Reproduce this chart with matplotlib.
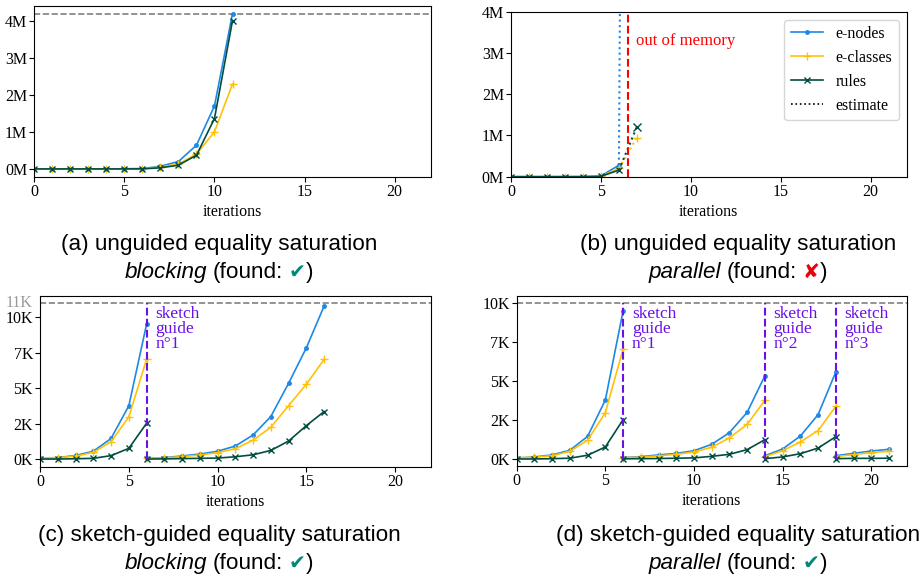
import matplotlib
matplotlib.use("Agg")
import matplotlib.pyplot as plt
import matplotlib.transforms as mtransforms
from matplotlib import font_manager
from matplotlib.lines import Line2D
from matplotlib.ticker import FuncFormatter

W, H = 923, 582

BLUE = '#1E88E5'
YELLOW = '#FFC107'
GREEN = '#004D40'
PURPLE = '#6a10e8'
TEAL = '#00897B'

# (a) unguided, blocking
a_x = list(range(12))
a_nodes = [50, 100, 250, 550, 1450, 3750, 9500, 70000, 200000, 640000, 1700000, 4190000]
a_classes = [80, 100, 200, 500, 1200, 2950, 7000, 50000, 130000, 400000, 1000000, 2290000]
a_rules = [0, 0, 20, 50, 250, 800, 2500, 30000, 100000, 370000, 1360000, 4000000]
a_limit = 4190000

# (b) unguided, parallel
b_x = list(range(7))
b_nodes = [50, 100, 250, 550, 1450, 15000, 280000]
b_classes = [80, 100, 200, 500, 1200, 12000, 200000]
b_rules = [0, 0, 20, 50, 250, 8000, 160000]
b_est_x = [6, 7]
b_est_nodes = [280000, 70000000]
b_est_classes = [200000, 950000]
b_est_rules = [160000, 1210000]
b_oom = 6.5

# (c) sketch-guided, blocking
c_x = [list(range(0, 7)), list(range(6, 17))]
c_nodes = [[50, 100, 250, 550, 1450, 3750, 9500],
           [50, 100, 220, 350, 550, 920, 1700, 3000, 5350, 7850, 10800]]
c_classes = [[80, 100, 200, 470, 1220, 2970, 7030],
             [50, 80, 170, 280, 450, 730, 1330, 2240, 3770, 5280, 7030]]
c_rules = [[0, 0, 20, 50, 240, 750, 2520],
           [0, 10, 30, 50, 70, 160, 300, 610, 1270, 2360, 3350]]
c_guides = [6]
c_limit = 11000

# (d) sketch-guided, parallel
d_x = [list(range(0, 7)), list(range(6, 15)), list(range(14, 19)), list(range(18, 22))]
d_nodes = [[60, 130, 260, 560, 1450, 3780, 9490],
           [90, 150, 260, 360, 530, 940, 1690, 2990, 5340],
           [210, 640, 1470, 2840, 5580],
           [210, 360, 510, 620]]
d_classes = [[80, 110, 210, 490, 1200, 2970, 7050],
             [80, 120, 200, 300, 450, 750, 1350, 2220, 3760],
             [150, 530, 1090, 1820, 3380],
             [150, 280, 410, 490]]
d_rules = [[0, 0, 20, 50, 240, 770, 2520],
           [10, 20, 30, 50, 70, 170, 300, 600, 1240],
           [20, 130, 340, 700, 1430],
           [20, 40, 40, 50]]
d_guides = [6, 14, 18]
d_limit = 10000

captions = [
    ("(a) unguided equality saturation", "blocking", "\u2714", TEAL),
    ("(b) unguided equality saturation", "parallel", "\u2718", '#e8000b'),
    ("(c) sketch-guided equality saturation", "blocking", "\u2714", TEAL),
    ("(d) sketch-guided equality saturation", "parallel", "\u2714", TEAL),
]

FS = 11.5
plt.rcParams['font.family'] = ['Liberation Serif', 'DejaVu Serif']
plt.rcParams['font.size'] = FS

installed = {f.name for f in font_manager.fontManager.ttflist}
if 'Liberation Sans Narrow' in installed:
    cap_font, cap_size = 'Liberation Sans Narrow', 18
else:
    cap_font, cap_size = 'Liberation Sans', 16.2

fig = plt.figure(figsize=(W / 100, H / 100), dpi=100)


def px_axes(l, t, r, b):
    return fig.add_axes([l / W, 1 - b / H, (r - l) / W, (b - t) / H])


def style_axes(ax):
    ax.set_xlim(0, 22)
    ax.set_xticks([0, 5, 10, 15, 20])
    ax.tick_params(axis='both', pad=1.5, labelsize=FS)
    ax.set_xlabel("iterations", labelpad=3, fontsize=FS)


def draw(ax, x, nodes, classes, rules, ls='-'):
    ax.plot(x, nodes, color=BLUE, marker='.', ms=5, lw=1.2, ls=ls)
    ax.plot(x, classes, color=YELLOW, marker='+', ms=6, lw=1.2, ls=ls)
    ax.plot(x, rules, color=GREEN, marker='x', ms=5, lw=1.2, ls=ls)


fmt_m = FuncFormatter(lambda v, _: f"{int(v / 1e6)}M")
fmt_k = FuncFormatter(lambda v, _: f"{int(v / 1000)}K")

# --- (a)
ax = px_axes(34.3, 6, 430.7, 176.7)
draw(ax, a_x, a_nodes, a_classes, a_rules)
ax.axhline(a_limit, color='grey', ls='--', lw=1.2, zorder=0)
ax.set_ylim(-0.21e6, 4.395e6)
ax.set_yticks([0, 1e6, 2e6, 3e6, 4e6])
ax.yaxis.set_major_formatter(fmt_m)
style_axes(ax)

# --- (b)
ax = px_axes(511, 11.7, 906.7, 176.7)
draw(ax, b_x, b_nodes, b_classes, b_rules)
ax.plot(b_est_x, b_est_nodes, color=BLUE, ls=':', lw=1.5)
ax.plot(b_est_x, b_est_classes, color=YELLOW, ls=':', lw=1.5)
ax.plot(b_est_x, b_est_rules, color=GREEN, ls=':', lw=1.5)
ax.plot(b_est_x[1:], b_est_classes[1:], color=YELLOW, marker='+', ms=6, ls='none')
ax.plot(b_est_x[1:], b_est_rules[1:], color=GREEN, marker='x', ms=6, ls='none')
ax.axvline(b_oom, color='red', ls='--', lw=1.5)
ax.text(b_oom + 0.45, 3.3e6, "out of memory", color='red', va='center', ha='left', fontsize=12)
ax.set_ylim(0, 4e6)
ax.set_yticks([0, 1e6, 2e6, 3e6, 4e6])
ax.yaxis.set_major_formatter(fmt_m)
style_axes(ax)
handles = [
    Line2D([], [], color=BLUE, marker='.', ms=5, lw=1.2),
    Line2D([], [], color=YELLOW, marker='+', ms=6, lw=1.2),
    Line2D([], [], color=GREEN, marker='x', ms=5, lw=1.2),
    Line2D([], [], color='black', ls=':', lw=1.2),
]
ax.legend(handles, ["e-nodes", "e-classes", "rules", "estimate"], loc='upper right', fontsize=FS)


def guided(ax, xs, nodes, classes, rules, guides, limit):
    for x, n, c, r in zip(xs, nodes, classes, rules):
        draw(ax, x, n, c, r)
    ax.axhline(limit, color='grey', ls='--', lw=1.2, zorder=0)
    trans = mtransforms.blended_transform_factory(ax.transData, ax.transAxes)
    for i, g in enumerate(guides):
        ax.vlines(g, 0, limit, color=PURPLE, ls='--', lw=1.5, zorder=3)
        ax.text(g + 0.5, 0.94, f"sketch\nguide\nn\u00b0{i + 1}", transform=trans,
                color=PURPLE, va='top', ha='left', fontsize=12.5, linespacing=0.92)
    ax.set_yticks([0, 2500, 5000, 7500, 10000])
    ax.yaxis.set_major_formatter(fmt_k)
    style_axes(ax)


# --- (c)
ax = px_axes(40, 295.7, 430.7, 466.7)
guided(ax, c_x, c_nodes, c_classes, c_rules, c_guides, c_limit)
ax.set_ylim(-540, 11520)
ax.annotate(f"{int(c_limit / 1000)}K", xy=(0, c_limit), xycoords=('axes fraction', 'data'),
            xytext=(-5.5, 0), textcoords='offset points', ha='right', va='center',
            color='#999999', fontsize=FS)

# --- (d)
ax = px_axes(516.7, 295.7, 906.7, 466)
guided(ax, d_x, d_nodes, d_classes, d_rules, d_guides, d_limit)
ax.set_ylim(-450, 10470)

# --- captions
renderer = fig.canvas.get_renderer()
cap_pos = [(219, 250, 278), (738, 250, 278), (219, 541, 569), (738, 541, 569)]
fam = [cap_font, 'DejaVu Sans']
gap = cap_size * 1.389 * 0.25
for (title, mode, mark, mcol), (cx, y1, y2) in zip(captions, cap_pos):
    fig.text(cx / W, 1 - y1 / H, title, ha='center', va='baseline', fontsize=cap_size, family=fam)
    parts = [fig.text(0, 1 - y2 / H, mode, style='italic', va='baseline', fontsize=cap_size, family=fam),
             fig.text(0, 1 - y2 / H, "(found:", va='baseline', fontsize=cap_size, family=fam),
             fig.text(0, 1 - y2 / H, mark, va='baseline', fontsize=cap_size * 0.9, family=fam,
                      color=mcol),
             fig.text(0, 1 - y2 / H, ")", va='baseline', fontsize=cap_size, family=fam)]
    widths = [p.get_window_extent(renderer).width for p in parts]
    gaps = [gap, gap, 1, 0]
    total = sum(widths) + sum(gaps[:-1])
    x = cx - total / 2
    for p, w, g in zip(parts, widths, gaps):
        p.set_x(x / W)
        x += w + g

fig.savefig("out.png", dpi=100)
